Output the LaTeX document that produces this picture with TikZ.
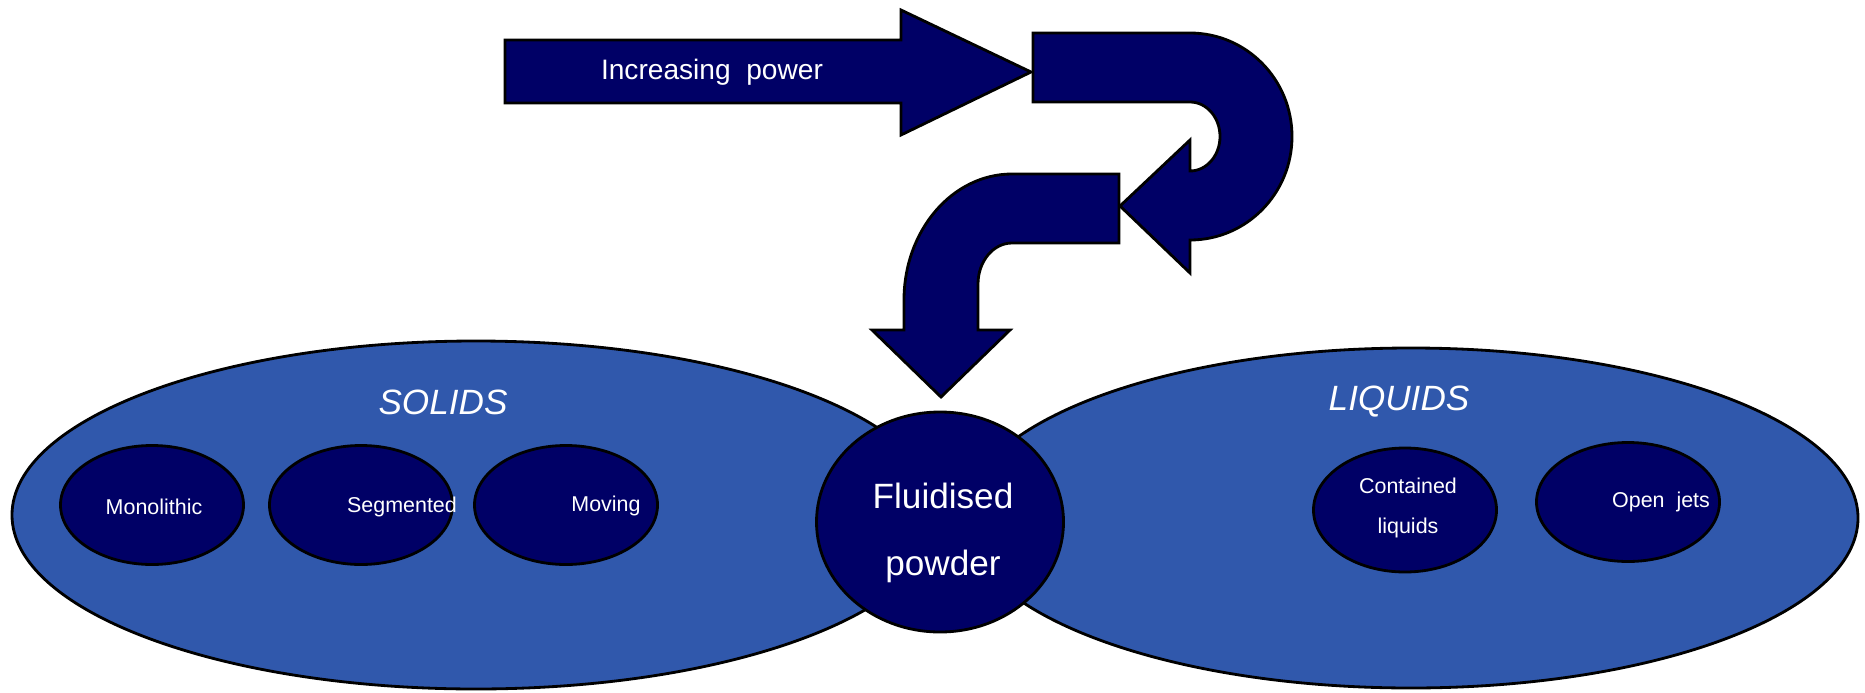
\documentclass[tikz,border=0pt]{standalone}
\usepackage{fontspec}
\setmainfont{Liberation Sans}
\usetikzlibrary{shapes.geometric}
\definecolor{navy}{RGB}{0,0,102}
\definecolor{phaseblue}{RGB}{48,88,172}
\begin{document}
\begin{tikzpicture}[
        phase/.style={ellipse, draw, line width=0.8pt, fill=phaseblue, inner sep=0pt},
        regime/.style={ellipse, draw, line width=0.8pt, fill=navy, inner sep=0pt, minimum width=1.83cm, minimum height=1.19cm},
        phase label/.style={text=white, font=\fontsize{10}{12}\selectfont\itshape},
        regime label/.style={text=white, align=center, font=\fontsize{6.1}{11.2}\selectfont},
        power arrow/.style={draw, line width=0.8pt, fill=navy, line join=miter},
    ]
	\useasboundingbox (0,0) rectangle (18.65,6.92);
	\node[phase, minimum width=9.28cm, minimum height=3.48cm] (solids) at (4.76,1.77) {};
	\node[phase, minimum width=8.94cm, minimum height=3.40cm] (liquids) at (14.11,1.74) {};
	\node[phase label] (solids_t) at (4.43,2.90) {SOLIDS};
	\node[phase label] (liquids_t) at (13.99,2.90) {LIQUIDS};
	\node[regime] (mono) at (1.52,1.87) {};
	\node[regime] (segm) at (3.61,1.87) {};
	\node[regime] (movi) at (5.66,1.87) {};
	\node[regime, minimum height=1.24cm] (cont) at (14.05,1.82) {};
	\node[regime] (jets) at (16.28,1.90) {};
	\node[regime label] at (1.54,1.85) {Monolithic};
	\node[regime label] at (4.02,1.85) {Segmented};
	\node[regime label] at (6.06,1.86) {Moving};
	\node[regime label] at (14.08,1.84) {Contained\\liquids};
	\node[regime label] at (16.61,1.90) {Open\ \ jets};
	\node[ellipse, draw, line width=0.8pt, fill=navy, inner sep=0pt, minimum width=2.47cm, minimum height=2.20cm] (fluid) at (9.40,1.70) {};
	\node[text=white, align=center, font=\fontsize{10}{19}\selectfont] (fluid_t) at (9.43,1.59) {Fluidised\\powder};
	\draw[power arrow] (5.05,5.89) -- (9.01,5.89) -- (9.01,5.57) -- (10.31,6.20) -- (9.01,6.82) -- (9.01,6.52) -- (5.05,6.52) -- cycle;
	\node[text=white, font=\fontsize{8}{10}\selectfont] (power) at (7.12,6.20) {Increasing\ \ power};
	\draw[power arrow] (10.33,6.59) -- (11.90,6.59) arc[start angle=90, end angle=-90, x radius=1.02, y radius=1.035]
	    -- (11.90,4.19) -- (11.20,4.86) -- (11.90,5.52) -- (11.90,5.21)
	    arc[start angle=-90, end angle=90, x radius=0.30, y radius=0.345] -- (10.33,5.90) -- cycle;
	\draw[power arrow] (11.19,5.18) -- (10.12,5.18) arc[start angle=90, end angle=180, x radius=1.08, y radius=1.26]
	    -- (9.04,3.62) -- (8.72,3.62) -- (9.41,2.95) -- (10.10,3.62) -- (9.78,3.62) -- (9.78,4.08)
	    arc[start angle=180, end angle=90, x radius=0.34, y radius=0.41] -- (11.19,4.49) -- cycle;
\end{tikzpicture}
\end{document}
